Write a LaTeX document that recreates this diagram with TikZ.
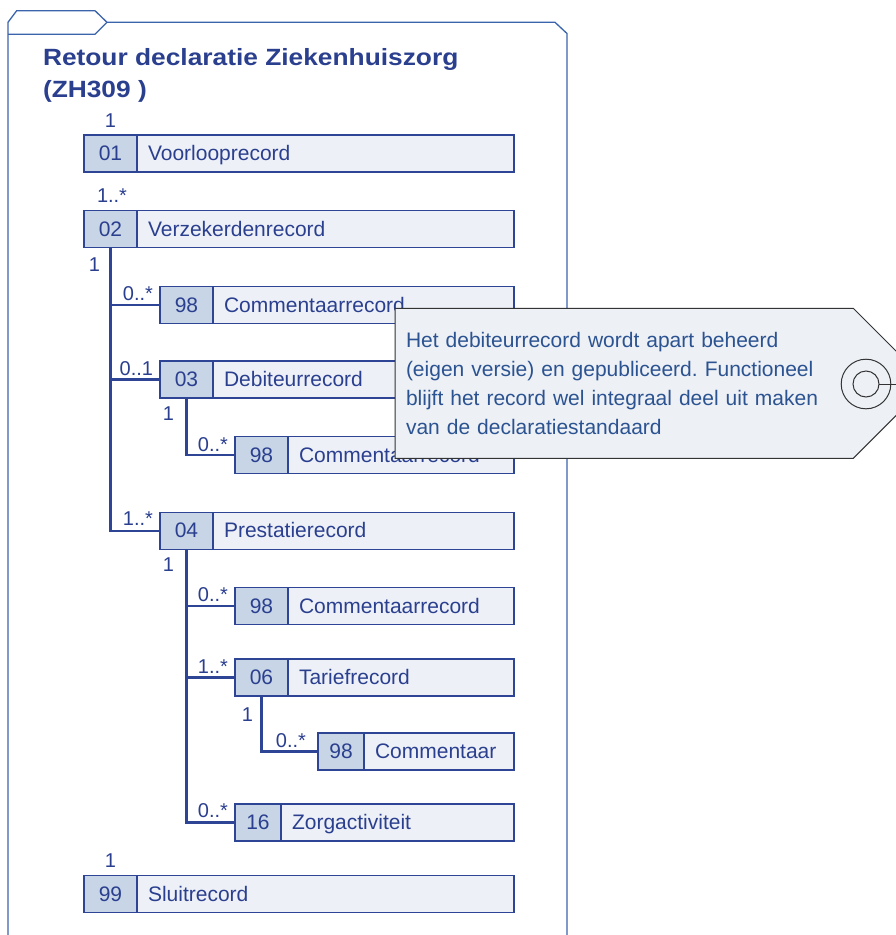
\documentclass[tikz,border=0pt]{standalone}
\usepackage{fontspec}
\setmainfont{Liberation Sans}
\usepackage{graphicx}
\frenchspacing
\definecolor{framecol}{HTML}{3B64AD}
\definecolor{recline}{HTML}{2E4595}
\definecolor{txt}{HTML}{2B3F8F}
\definecolor{numfill}{HTML}{C7D5E6}
\definecolor{namefill}{HTML}{EDF1F7}
\definecolor{notefill}{HTML}{EDF0F5}
\definecolor{notetxt}{HTML}{2C5391}
\definecolor{noteline}{HTML}{333333}
\newcommand\recfont{\fontsize{21}{25}\selectfont}
\newcommand\multfont{\fontsize{20}{24}\selectfont}
\newcommand\notefont{\fontsize{21}{29}\selectfont}
\newcommand\titlefont{\fontsize{23.5}{28}\selectfont\bfseries}
\tikzset{
  numcell/.style={draw=recline, fill=numfill, line width=1.4pt, minimum height=37pt,
    inner sep=0pt, outer sep=0pt, anchor=north west, text=txt, font=\recfont,
    text height=16pt, text depth=2pt},
  namecell/.style={draw=recline, fill=namefill, line width=1.4pt, minimum height=37pt,
    inner xsep=11pt, inner ysep=0pt, outer sep=0pt, anchor=north west, text=txt,
    font=\recfont, text height=16pt, text depth=2pt, align=left},
  mult/.style={inner sep=0pt, outer sep=0pt, text=txt, font=\multfont},
  conn/.style={draw=recline, line width=2.2pt},
  selrec/.style={line width=2.4pt},
  framepath/.style={draw=framecol, line width=1.3pt},
  notebox/.style={draw=noteline, fill=notefill, line width=1pt, line join=miter},
  notering/.style={draw=noteline, line width=1pt},
  titletext/.style={inner sep=0pt, outer sep=0pt, text=txt, font=\titlefont, anchor=base west}
}
% #1 name, #2 x, #3 top, #4 number width, #5 number, #6 text, #7 extra style
\newcommand\record[7]{%
  \pgfmathsetmacro\tw{514-#2-#4-22}%
  \node[numcell, minimum width=#4pt, #7] (num-#1) at (#2,#3) {#5};
  \node[namecell, text width=\tw pt, #7] (txt-#1) at (num-#1.north east) {#6};
}
\begin{document}
\begin{tikzpicture}[x=1pt,y=-1pt]
\clip (0,0) rectangle (896,935);
\fill[white] (0,0) rectangle (896,935);
% package frame
\draw[framepath] (8,945) -- (8,22.3) -- (16.7,10.7) -- (95,10.7) -- (107,22.3) -- (555,22.3) -- (567,33.5) -- (567,945);
\draw[framepath] (8,34.3) -- (95,34.3) -- (107,22.3);
% title
\node[titletext] (title1) at (43,65) {\scalebox{1.12}[1]{Retour declaratie Ziekenhuiszorg}};
\node[titletext] (title2) at (43,97) {\scalebox{1.12}[1]{(ZH309 )}};
% records
\record{voor}{84}{135}{53}{01}{Voorlooprecord}{}
\record{verz}{84}{210.7}{53}{02}{Verzekerdenrecord}{}
\record{comA}{160}{286.5}{53}{98}{Commentaarrecord}{}
\record{debi}{160}{361}{53}{03}{Debiteurrecord}{selrec}
\record{comB}{235}{436.5}{53}{98}{Commentaarrecord}{}
\record{pres}{160}{512.3}{53}{04}{Prestatierecord}{}
\record{comC}{235}{587.5}{53}{98}{Commentaarrecord}{}
\record{tarf}{235}{659}{53}{06}{Tariefrecord}{}
\record{comD}{318}{733}{46}{98}{Commentaar}{}
\record{zorg}{235}{804}{46}{16}{Zorgactiviteit}{}
\record{sluit}{84}{875.5}{53}{99}{Sluitrecord}{}
% connectors
\draw[conn] (num-verz.south) |- (num-pres.west);
\draw[conn] (num-verz.south |- num-comA.west) -- (num-comA.west);
\draw[conn] (num-verz.south |- num-debi.west) -- (num-debi.west);
\draw[conn] (num-debi.south) |- (num-comB.west);
\draw[conn] (num-pres.south) |- (num-zorg.west);
\draw[conn] (num-pres.south |- num-comC.west) -- (num-comC.west);
\draw[conn] (num-pres.south |- num-tarf.west) -- (num-tarf.west);
\draw[conn] (num-tarf.south) |- (num-comD.west);
% multiplicities
\node[mult, anchor=base] (m1) at (110.5,127) {1};
\node[mult, anchor=base west] (m2) at (97,202) {1..*};
\node[mult, anchor=base east] (m3) at (100,271) {1};
\node[mult, anchor=base east] (m4) at (153,300) {0..*};
\node[mult, anchor=base east] (m5) at (153,375) {0..1};
\node[mult, anchor=base east] (m6) at (174,420) {1};
\node[mult, anchor=base east] (m7) at (228,451) {0..*};
\node[mult, anchor=base east] (m8) at (153,525) {1..*};
\node[mult, anchor=base east] (m9) at (174,571) {1};
\node[mult, anchor=base east] (m10) at (228,601) {0..*};
\node[mult, anchor=base east] (m11) at (228,673) {1..*};
\node[mult, anchor=base east] (m12) at (253,721) {1};
\node[mult, anchor=base east] (m13) at (306,747) {0..*};
\node[mult, anchor=base east] (m14) at (228,817) {0..*};
\node[mult, anchor=base] (m15) at (110.5,867) {1};
% note
\draw[notebox] (395,308.3) -- (853.3,308.3) -- (928.3,383.3) -- (853.3,458.3) -- (395,458.3) -- cycle;
\draw[notering] (866,384) circle[radius=24.8];
\draw[notering] (866,384) circle[radius=13];
\draw[notering] (879,384) -- (905,384);
\node[inner sep=0pt, outer sep=0pt, anchor=base west, text width=440pt, align=left,
  text=notetxt, font=\notefont] (note) at (406,347)
  {Het debiteurrecord wordt apart beheerd\\(eigen versie) en gepubliceerd. Functioneel\\blijft het record wel integraal deel uit maken\\van de declaratiestandaard};
\end{tikzpicture}
\end{document}
